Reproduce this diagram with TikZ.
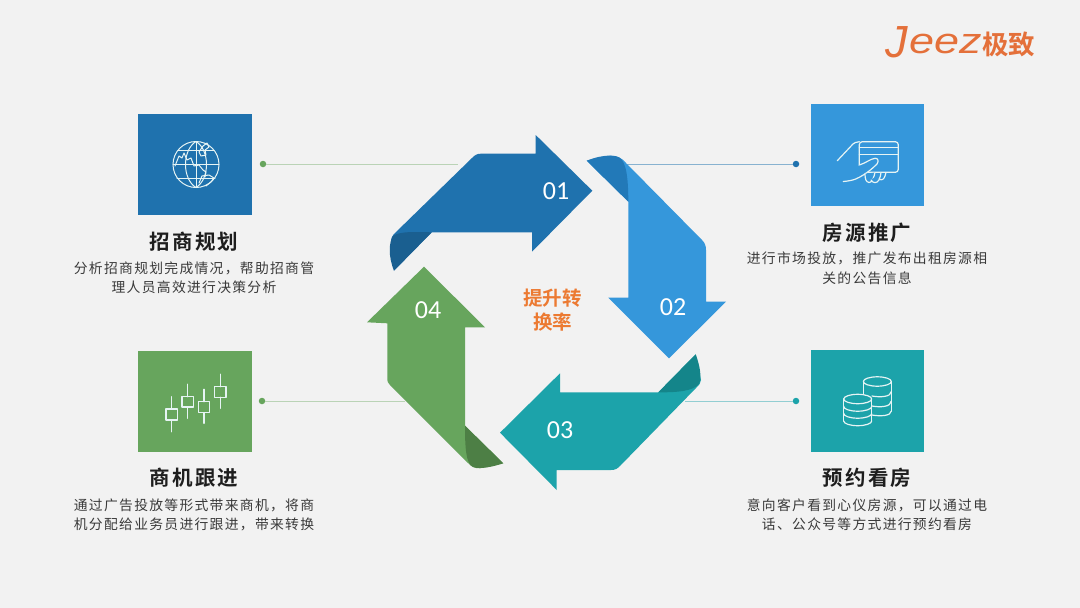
\documentclass[tikz,border=0pt]{standalone}
\usepackage{fontspec}
\usepackage{graphicx}
\setmainfont{Noto Sans CJK SC}
\newfontfamily\bodyf[LetterSpace=9.4]{Noto Sans CJK SC}
\newfontfamily\titlef[LetterSpace=10]{Noto Sans CJK SC Bold}
\newfontfamily\centf{Noto Sans CJK SC Bold}
\newfontfamily\numf{Carlito}
\newfontfamily\logof{Liberation Sans}
\definecolor{bgc}{HTML}{F2F2F2}
\definecolor{aone}{HTML}{1F72AE}
\definecolor{aonef}{HTML}{1A5F90}
\definecolor{atwo}{HTML}{3597DB}
\definecolor{atwof}{HTML}{2279B8}
\definecolor{athree}{HTML}{1CA3AA}
\definecolor{athreef}{HTML}{14858A}
\definecolor{afour}{HTML}{67A55D}
\definecolor{afourf}{HTML}{4D7F45}
\definecolor{orangec}{HTML}{EC7A32}
\definecolor{logoc}{HTML}{E4703A}
\definecolor{titlec}{HTML}{1E1E1E}
\definecolor{bodyc}{HTML}{3A3A3A}
\definecolor{iconl}{HTML}{E6F4F4}
\tikzset{
  titlet/.style={inner sep=0pt,text=titlec,font=\titlef\fontsize{20.5}{20.5}\selectfont},
  bodyt/.style={inner sep=0pt,text=bodyc,font=\bodyf\fontsize{13.8}{14}\selectfont},
  numt/.style={inner sep=0pt,text=white,font=\numf\fontsize{26}{26}\selectfont},
  centt/.style={inner sep=0pt,text=orangec,font=\centf\fontsize{19.5}{20}\selectfont},
  dotn/.style={circle,inner sep=0pt,minimum size=6.5pt},
  iconbox/.style={inner sep=0pt,minimum width=113.5pt,minimum height=101.5pt},
  iconline/.style={draw=iconl,line width=1.2pt,line join=round,line cap=round},
  conn/.style={line width=0.8pt}
}
\begin{document}
\begin{tikzpicture}[x=1pt,y=-1pt]
\fill[bgc] (0,0) rectangle (1080,608);
\useasboundingbox (0,0) rectangle (1080,608);

% connectors
\node[dotn,fill=afour] (d1) at (263,164) {};
\node[dotn,fill=aone] (d2) at (796,164) {};
\node[dotn,fill=athree] (d3) at (796,401) {};
\node[dotn,fill=afour] (d4) at (262,401) {};
\coordinate (e1) at (458,164);
\coordinate (e2) at (622,164);
\coordinate (e3) at (685,401);
\coordinate (e4) at (405,401);
\draw[conn,draw=afour!40!bgc] (d1) -- (e1);
\draw[conn,draw=aone!50!bgc] (d2) -- (e2);
\draw[conn,draw=athree!45!bgc] (d3) -- (e3);
\draw[conn,draw=afour!40!bgc] (d4) -- (e4);

% arrow 01
\fill[aone] (592.3,190.7) -- (535.7,135) -- (535.7,153.7) -- (481,153.7)
  .. controls (477,153.7) and (475,155) .. (472,158) -- (395,233)
  .. controls (392,236) and (391,238) .. (391,243) -- (394,270.7)
  -- (431.7,232.3) -- (532,232.3) -- (532,251.7) -- cycle;
\fill[aonef] (394,270.7) .. controls (388,256) and (389,242) .. (393,236)
  .. controls (400,231) and (415,232) .. (431.7,232.3) -- cycle;
% arrow 02
\fill[atwo] (669,358.3) -- (726,301.7) -- (706,301.7) -- (706,250)
  .. controls (706,246) and (705,243) .. (702,240) -- (626,163)
  .. controls (622,158) and (618,156) .. (610,155.7) -- (586.7,160.7)
  -- (628.3,201.7) -- (628.3,297.7) -- (608.3,297.7) -- cycle;
\fill[atwof] (586.7,160.7) .. controls (598,156) and (610,154.5) .. (617,156.5)
  .. controls (624,158.5) and (628.3,168) .. (628.3,201.7) -- cycle;
% arrow 03
\fill[athree] (500,432.7) -- (560,373.3) -- (560,392.3) -- (658.3,392.3)
  -- (695.7,354.3) -- (701,380) .. controls (701,383) and (699,385) .. (696,388)
  -- (620,466) .. controls (617,469) and (615,470) .. (611,470)
  -- (556.7,470) -- (556.7,490) -- cycle;
\fill[athreef] (695.7,354.3) .. controls (700,366) and (702,378) .. (699,384)
  .. controls (693,391) and (678,392.5) .. (658.3,392.3) -- cycle;
% arrow 04
\fill[afour] (424,266.7) -- (485,327.3) -- (465,327.3) -- (465,425.7)
  -- (503.3,463.3) -- (480,468.3) .. controls (474,468.5) and (471,466) .. (468,463)
  -- (390,385) .. controls (388,383) and (387.3,382) .. (387.3,378)
  -- (387.3,323.3) -- (367,322.3) -- cycle;
\fill[afourf] (503.3,463.3) .. controls (492,467) and (480,469.5) .. (473,467)
  .. controls (466,464) and (465,448) .. (465,425.7) -- cycle;

% numbers
\node[numt] (n1) at (556,191) {01};
\node[numt] (n2) at (673,307) {02};
\node[numt] (n3) at (560,430) {03};
\node[numt] (n4) at (428,310) {04};
\node[centt] (c1) at (552.5,298) {提升转};
\node[centt] (c2) at (552.5,322) {换率};

% icon boxes
\node[iconbox,fill=aone] (b1) at (195,164.5) {};
\node[iconbox,fill=atwo] (b2) at (867.5,155.2) {};
\node[iconbox,fill=athree] (b3) at (867.5,401) {};
\node[iconbox,fill=afour] (b4) at (195,401.5) {};

% globe
\begin{scope}[iconline,line width=1pt]
\draw (196,164.5) circle[radius=23];
\draw (196,141.5) .. controls (182,150) and (182,179) .. (196,187.5);
\draw (196,141.5) .. controls (210,150) and (210,179) .. (196,187.5);
\draw (196,141.5) -- (196,187.5);
\draw (178,150) -- (214,150);
\draw (173,164.5) -- (219,164.5);
\draw (177,178) -- (215,178);
\draw (175,166) -- (179,156) -- (182,158) -- (184,153) -- (187,160) -- (191,158) -- (194,166) -- (199,165) -- (203,170) -- (206,172) -- (205,177);
\draw (199,152) -- (203,146) -- (207,143) -- (209,147) -- (205,150) -- (206,155) -- (201,156) -- cycle;
\draw (199,183) -- (202,176) -- (209,175) -- (214,178) -- (211,182) -- (206,186);
\end{scope}

% card hand
\begin{scope}[iconline]
\draw[rounded corners=3pt] (859.3,141.7) rectangle (898.3,172.3);
\draw (859.3,147.3) -- (898.3,147.3);
\draw (859.3,154.3) -- (898.3,154.3);
\draw (837.3,160.7) -- (853,144) .. controls (854,143) and (856,142) .. (859.3,141.7);
\fill[atwo] (860,173) rectangle (885,176);
\draw[fill=atwo] (859.3,165) .. controls (866,163) and (870,159) .. (875,158.3) .. controls (878,158) and (879,161) .. (877,164) .. controls (872,169) and (868,172) .. (863.3,175) .. controls (858,178) and (855,180.5) .. (843.3,181.5);
\draw[fill=atwo] (865,174) .. controls (865,179) and (866,182) .. (869,182.5) .. controls (872,183) and (874,177) .. (875,172.5);
\draw[fill=atwo] (871,180) .. controls (873,183.5) and (877,183.5) .. (879,180) .. controls (880,177) and (881,175) .. (881,172.5);
\draw (879,179) .. controls (882,181) and (884,179) .. (885,176) -- (886,172.5);
\end{scope}

% coins
\begin{scope}[iconline]
\draw (863.3,381.5) arc[x radius=14,y radius=4.7,start angle=180,end angle=540];
\draw (863.3,381.5) -- (863.3,396);
\draw (891.3,381.5) -- (891.3,411);
\draw (872,415) .. controls (880,416.5) and (891.3,416) .. (891.3,411);
\draw (872,396) .. controls (880,397.5) and (891.3,397) .. (891.3,391.5);
\draw (872,406) .. controls (880,407.5) and (891.3,407) .. (891.3,401);
\draw[fill=athree] (843.7,399) arc[x radius=14,y radius=4.7,start angle=180,end angle=540];
\draw (843.7,399) -- (843.7,421);
\draw (871.7,399) -- (871.7,421);
\draw (843.7,421) arc[x radius=14,y radius=4.7,start angle=180,end angle=0];
\draw (843.7,406.5) arc[x radius=14,y radius=4.7,start angle=180,end angle=0];
\draw (843.7,413.5) arc[x radius=14,y radius=4.7,start angle=180,end angle=0];
\end{scope}

% candles
\begin{scope}[iconline,line width=1.4pt]
\draw (171.7,396.7) -- (171.7,409) (171.7,420) -- (171.7,431.7);
\draw (166,409) rectangle (177.4,420);
\draw (187.7,384.3) -- (187.7,396.7) (187.7,407) -- (187.7,418.3);
\draw (182,396.7) rectangle (193.4,407);
\draw (204,389.3) -- (204,401.7) (204,412.7) -- (204,423.3);
\draw (198.3,401.7) rectangle (209.7,412.7);
\draw (220.3,374.3) -- (220.3,386.7) (220.3,397.3) -- (220.3,408.3);
\draw (214.6,386.7) rectangle (226,397.3);
\end{scope}

% titles and body
\node[titlet] (t1) at (194,242) {招商规划};
\node[bodyt] (t1a) at (194,268) {分析招商规划完成情况，帮助招商管};
\node[bodyt] (t1b) at (194,287) {理人员高效进行决策分析};
\node[titlet] (t2) at (867,233) {房源推广};
\node[bodyt] (t2a) at (867,258.5) {进行市场投放，推广发布出租房源相};
\node[bodyt] (t2b) at (867,278) {关的公告信息};
\node[titlet] (t3) at (867,478) {预约看房};
\node[bodyt] (t3a) at (867,505.5) {意向客户看到心仪房源，可以通过电};
\node[bodyt] (t3b) at (867,524.5) {话、公众号等方式进行预约看房};
\node[titlet] (t4) at (194,478) {商机跟进};
\node[bodyt] (t4a) at (194,505.5) {通过广告投放等形式带来商机，将商};
\node[bodyt] (t4b) at (194,524.5) {机分配给业务员进行跟进，带来转换};

% logo
\node[inner sep=0pt,text=logoc,font=\logof\itshape\fontsize{45}{45}\selectfont,anchor=base west] (lj) at (885,57) {J};
\node[inner sep=0pt,text=logoc,font=\logof\itshape\fontsize{36}{36}\selectfont,anchor=base west] (le) at (909,53) {\scalebox{1.25}[1]{eez}};
\node[inner sep=0pt,text=logoc,font=\centf\fontsize{26.5}{27}\selectfont,anchor=west] (lc) at (982,44) {极致};
\end{tikzpicture}
\end{document}
